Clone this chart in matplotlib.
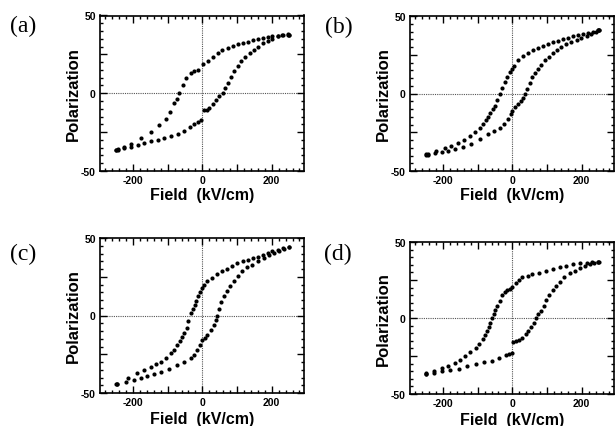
#######################################
# IMPORT AND LIB
#######################################

import matplotlib
matplotlib.use("Agg")
import matplotlib.pyplot as plt
from matplotlib.ticker import MultipleLocator

#######################################
# DATA
#######################################

# (a)
A_UP_FIELD = [250, 246, 230, 217, 202, 188, 174, 160, 145, 131, 116, 102, 88, 73, 58, 44, 30, 15, 1,
              -13, -23, -33, -47, -57, -66, -74, -81, -92, -105, -124, -148, -177, -206, -225, -244, -250]
A_UP_POL = [37.5, 37.4, 37.5, 37, 36.5, 36, 35.5, 35, 34, 33, 32, 31.5, 30.5, 29, 27.5, 26, 23.5, 20.6, 18.5,
            15.2, 14, 13, 9.8, 5.4, 0, -3.5, -6.5, -12, -16.3, -20.7, -25, -28.7, -32.6, -34.5, -36, -36.5]
A_LO_FIELD = [-250, -244, -225, -206, -186, -167, -148, -129, -110, -90, -71, -52, -37, -23, -12, -4,
              4, 12, 20, 30, 39, 49, 59, 66, 73, 83, 92, 102, 112, 124, 136, 148, 160, 174, 188, 202,
              217, 232, 246, 250]
A_LO_POL = [-36.5, -36.5, -35.5, -34.8, -33.5, -32, -31, -30, -29, -27.8, -26, -24, -22, -20, -18.5, -17.4,
            -10.9, -10.5, -9.8, -7, -4.3, -2, 0.4, 3.5, 6.5, 10.3, 14, 17.5, 20.6, 23.5, 26, 28, 30, 32, 33.7, 35,
            36.5, 37.3, 38, 37.5]

# (b)
B_UP_FIELD = [250, 247, 232, 218, 204, 189, 175, 160, 146, 133, 118, 103, 89, 74, 60, 45, 30, 16, 5, -2,
              -8, -15, -22, -29, -36, -43, -49, -56, -63, -69, -75, -85, -94, -108, -123, -140, -157, -176,
              -195, -220, -243, -250]
B_UP_POL = [41, 40.9, 40, 39, 38.3, 37.6, 36.8, 36, 35, 34, 33, 32, 30.7, 29.3, 27.8, 26, 24, 21.3, 18, 15.5,
            13.7, 10.5, 7.2, 3.5, -0.4, -4.5, -8, -10.3, -12.4, -15, -17.4, -19.8, -22, -25, -27.6, -30, -32, -33.6,
            -35.2, -37, -39, -39.3]
B_LO_FIELD = [-250, -243, -224, -204, -185, -166, -142, -118, -94, -70, -53, -36, -24, -12, -5, 0, 8, 16,
              24, 31, 37, 43, 50, 57, 65, 74, 83, 93, 105, 117, 129, 141, 155, 170, 185, 199, 214, 228, 240,
              247, 250]
B_LO_POL = [-39.6, -39.6, -38.7, -37.8, -37, -36, -34.5, -32.6, -29.5, -26, -24, -22, -19.5, -16.7, -13.5, -11.3,
            -9, -7, -4.8, -2.6, 0, 2.8, 6.5, 10.4, 13.3, 15.9, 18.6, 21.3, 23.8, 26, 28, 30, 31.7, 33.3, 34.7, 36,
            37.4, 38.7, 39.7, 40.9, 41]

# (c)
C_UP_FIELD = [250, 233, 217, 202, 188, 174, 160, 145, 131, 116, 101, 86, 72, 57, 43, 28, 14, 6, 0, -6, -12,
              -17, -21, -28, -34, -40, -45, -52, -58, -65, -72, -81, -91, -105, -120, -134, -149, -168, -188,
              -215, -245]
C_UP_POL = [44.4, 43.3, 42.2, 41.4, 40.5, 39.2, 37.9, 36.8, 35.7, 35, 34, 32, 30, 28.5, 27, 24.5, 22, 20, 17.7,
            15, 12.3, 9.5, 6.9, 4.2, 1.5, -3.5, -8.2, -11, -13.6, -16.3, -19, -22, -24.5, -27.3, -29.9, -31.5, -33,
            -35.2, -37.4, -40.5, -43.9]
C_LO_FIELD = [-250, -245, -221, -197, -178, -159, -140, -120, -96, -72, -53, -34, -24, -14, -7, 0, 7, 14, 24,
              34, 39, 43, 49, 55, 63, 72, 81, 91, 103, 115, 129, 144, 161, 178, 193, 207, 222, 236, 250]
C_LO_POL = [-44.4, -44.4, -42.8, -41.3, -40.2, -39.2, -37.9, -36.4, -34.3, -32, -30, -27.7, -25.2, -22.3, -19,
            -15.8, -14.3, -12.6, -9.5, -6, -3, -0.2, 4.5, 9, 12.5, 15.6, 19, 22, 25.5, 28.6, 31, 32.9, 35.2, 37.2,
            39, 40.5, 41.8, 43.1, 44.4]

# (d)
D_UP_FIELD = [250, 248, 231, 214, 194, 175, 156, 136, 117, 97, 78, 58, 44, 29, 20, 10, 0, -8, -15, -22, -29,
              -37, -44, -49, -53, -58, -63, -68, -73, -79, -85, -95, -106, -121, -136, -150, -165, -185, -204,
              -226, -248]
D_UP_POL = [37, 37, 36.7, 36.4, 36, 35.5, 34.5, 33.3, 32, 31, 29.8, 28.7, 27.7, 26.7, 25, 22.7, 20.4, 19.3,
            18.2, 16.8, 15, 11.5, 8.2, 5.5, 2.7, 0, -3, -5.7, -8.4, -11.2, -14, -17, -19.6, -22.5, -25, -27.5,
            -29.6, -31.5, -33, -34.8, -36.4]
D_LO_FIELD = [-250, -248, -226, -204, -180, -155, -130, -106, -82, -58, -38, -19, -10, -2, 2, 10, 19, 29, 39,
              46, 53, 61, 68, 75, 82, 90, 97, 107, 116, 126, 136, 150, 165, 180, 194, 209, 223, 236, 248]
D_LO_POL = [-36.9, -36.9, -36, -35, -34.2, -33.3, -31.6, -30, -29, -28, -26, -24.4, -23.5, -22.9, -15.6, -15.2,
            -14.7, -13, -10.7, -8.5, -6.2, -3, 0, 2.4, 4.9, 8.2, 11.6, 15, 18.2, 21, 23.8, 26.8, 29.3, 31.2, 32.7,
            34.2, 35.5, 36.3, 37]

PANEL_LABELS = ["(a)", "(b)", "(c)", "(d)"]
X_TICK_LABELS = [-200, 0, 200]
Y_TICK_LABELS = [-50, 0, 50]

#######################################
# DISPLAY
#######################################

SANS = "Liberation Sans"
SERIF = "Liberation Serif"

W, H = 616, 427

# axes boxes in pixels: left, top, right, bottom
BOXES = [(100, 16.5, 304, 172),
         (410, 17, 614, 172),
         (100, 239, 304, 394),
         (410, 243, 614, 395)]
# panel label centre in pixels
LABEL_POS = [(23, 26), (339, 27), (23, 254), (338, 254)]
# gap between tick labels and "Field" label, top row vs bottom row
XLABEL_PAD = [1, 1, 2.5, 2.5]


def make_panel(fig, box, up, lo, xpad):
    l, t, r, b = box
    ax = fig.add_axes([l / W, 1 - b / H, (r - l) / W, (b - t) / H])

    ax.axhline(0, color="#555555", lw=0.8, ls=(0, (1, 1)), zorder=1)
    ax.axvline(0, color="#555555", lw=0.8, ls=(0, (1, 1)), zorder=1)

    for xs, ys in (up, lo):
        ax.plot(xs, ys, "o", color="black", ms=3.0, mew=0, zorder=3)

    ax.xaxis.set_major_locator(MultipleLocator(100))
    ax.xaxis.set_minor_locator(MultipleLocator(20))
    ax.yaxis.set_major_locator(MultipleLocator(25))
    ax.yaxis.set_minor_locator(MultipleLocator(5))
    ax.set_xlim(-295, 293)
    ax.set_ylim(-50, 50)
    # only some major ticks carry labels
    xt = ax.get_xticks()
    yt = ax.get_yticks()
    ax.set_xticks(xt)
    ax.set_yticks(yt)
    ax.set_xticklabels([str(int(round(v))) if int(round(v)) in X_TICK_LABELS else "" for v in xt])
    ax.set_yticklabels([str(int(round(v))) if int(round(v)) in Y_TICK_LABELS else "" for v in yt])
    ax.set_xlim(-295, 293)
    ax.set_ylim(-50, 50)

    ax.tick_params(which="both", direction="in", top=True, right=True, width=1.0, pad=3)
    ax.tick_params(which="major", length=5)
    ax.tick_params(which="minor", length=2.5)
    for lab in ax.get_xticklabels() + ax.get_yticklabels():
        lab.set_fontfamily(SANS)
        lab.set_fontweight("bold")
        lab.set_fontsize(7.5)
    for sp in ax.spines.values():
        sp.set_linewidth(1.2)

    ax.set_xlabel("Field  (kV/cm)", fontfamily=SANS, fontweight="bold", fontsize=11.5, labelpad=xpad)
    ax.set_ylabel("Polarization", fontfamily=SANS, fontweight="bold", fontsize=12, labelpad=0)
    return ax


fig = plt.figure(figsize=(W / 100, H / 100), dpi=100)

branches = [((A_UP_FIELD, A_UP_POL), (A_LO_FIELD, A_LO_POL)),
            ((B_UP_FIELD, B_UP_POL), (B_LO_FIELD, B_LO_POL)),
            ((C_UP_FIELD, C_UP_POL), (C_LO_FIELD, C_LO_POL)),
            ((D_UP_FIELD, D_UP_POL), (D_LO_FIELD, D_LO_POL))]

for box, (up, lo), lab, (lx, ly), xpad in zip(BOXES, branches, PANEL_LABELS, LABEL_POS, XLABEL_PAD):
    make_panel(fig, box, up, lo, xpad)
    fig.text(lx / W, 1 - ly / H, lab, fontfamily=SERIF, fontsize=17, ha="center", va="center")

fig.savefig("out.png", dpi=100)
